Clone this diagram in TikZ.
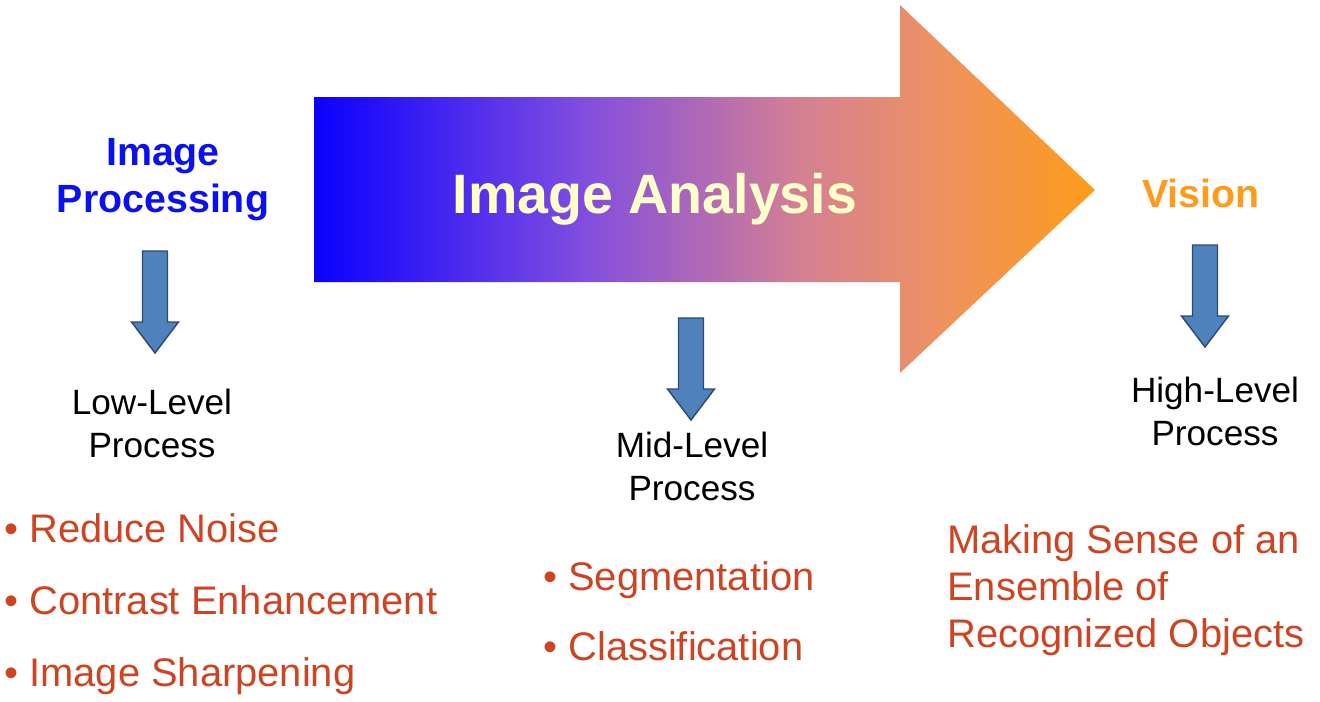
\documentclass[tikz,border=0pt]{standalone}
\usepackage{fontspec}
\setmainfont{Liberation Sans}
\usepackage{tikz}
\usetikzlibrary{positioning, calc}
\definecolor{titleblue}{HTML}{0A10F0}
\definecolor{visionorange}{HTML}{FF9A1A}
\definecolor{itemred}{HTML}{CC4422}
\definecolor{cream}{HTML}{FFFFCC}
\definecolor{stepfill}{HTML}{4F81BD}
\definecolor{stepline}{HTML}{2C4770}

% colour run of the big arrow (path is mapped onto 25bp--75bp)
\pgfdeclarehorizontalshading{analysisrun}{100bp}{%
  rgb(0bp)=(0.04,0.0,1.0);
  rgb(25bp)=(0.04,0.0,1.0);
  rgb(42bp)=(0.50,0.30,0.88);
  rgb(56bp)=(0.83,0.50,0.58);
  rgb(65bp)=(0.93,0.57,0.38);
  rgb(75bp)=(1.0,0.61,0.10);
  rgb(100bp)=(1.0,0.61,0.10)}

\begin{document}
\begin{tikzpicture}[
  x=0.02cm, y=-0.02cm,
  title/.style={font=\fontsize{22.4}{26.7}\selectfont\bfseries, align=center, inner sep=0pt},
  level/.style={font=\fontsize{20}{24}\selectfont, align=center, inner sep=0pt},
  item/.style={font=\fontsize{22.7}{26.7}\selectfont, color=itemred, align=left, inner sep=0pt, anchor=base west},
  blockdown/.pic={
    \filldraw[fill=stepfill, draw=stepline, line width=0.8pt]
      (-12.5,-102) -- (12.5,-102) -- (12.5,-31) -- (23.5,-31) -- (0,0)
      -- (-23.5,-31) -- (-12.5,-31) -- cycle;
  },
]
  \useasboundingbox (0,0) rectangle (1320,701);

  % Big arrow
  \path[shading=analysisrun]
    (314,97) -- (900,97) -- (900,5) -- (1095,190) -- (900,373) -- (900,282) -- (314,282) -- cycle;
  \node[font=\fontsize{31.6}{36}\selectfont\bfseries, text=cream, inner sep=0pt, anchor=base] (analysis) at (655,213) {Image Analysis};

  % Titles
  \node[title, text=titleblue, anchor=base] (processing) at (163,212) {Image\\Processing};
  \node[title, text=visionorange, anchor=base] (vision) at (1201,207) {Vision};

  % Down arrows
  \pic at (155,353) {blockdown};
  \pic at (691,420) {blockdown};
  \pic at (1205,347) {blockdown};

  % Levels
  \node[level, anchor=base] (low) at (152,457) {Low-Level\\Process};
  \node[level, anchor=base] (mid) at (692,500) {Mid-Level\\Process};
  \node[level, anchor=base] (high) at (1215,445) {High-Level\\Process};

  % Low-level tasks
  \node[item] (noise) at (4,542) {• Reduce Noise};
  \node[item] (contrast) at (4,614) {• Contrast Enhancement};
  \node[item] (sharpen) at (4,686) {• Image Sharpening};

  % Mid-level tasks
  \node[item] (segment) at (543,590) {• Segmentation};
  \node[item] (classify) at (543,660) {• Classification};

  % High-level task
  \node[item] (sense) at (947,647) {Making Sense of an\\Ensemble of\\Recognized Objects};

\end{tikzpicture}
\end{document}
